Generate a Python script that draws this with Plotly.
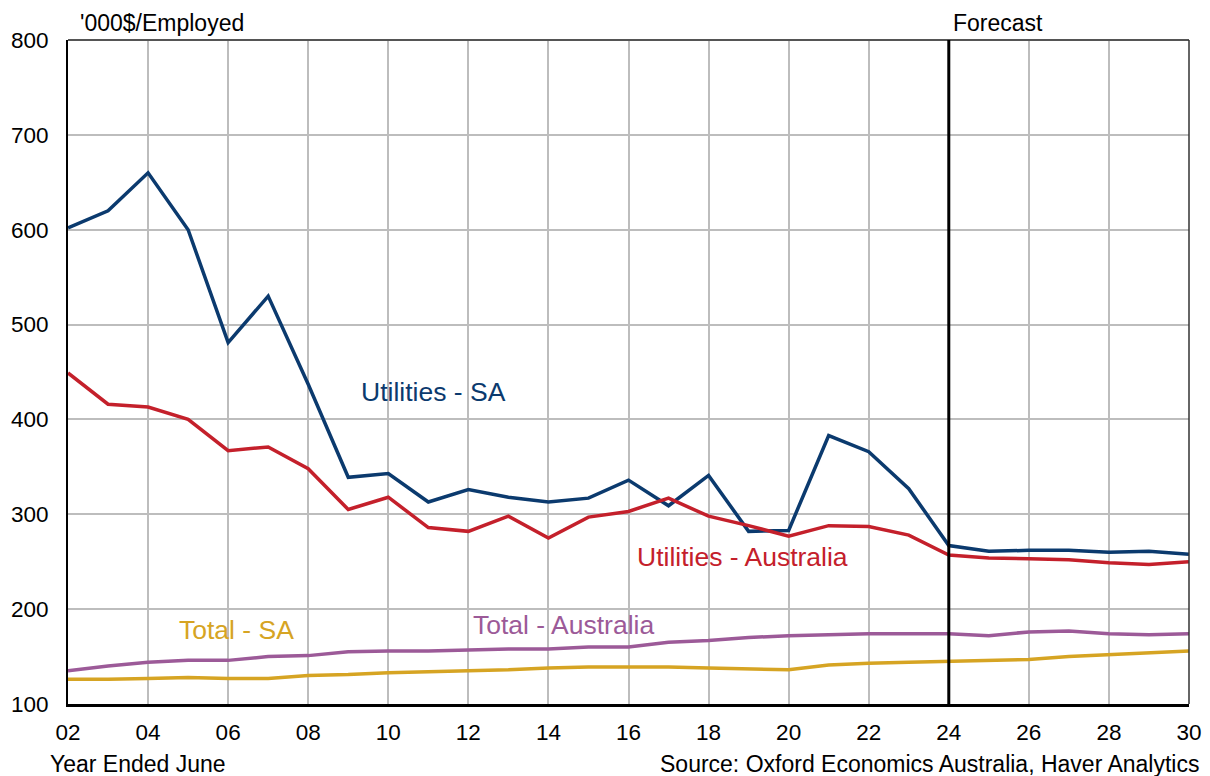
import plotly.graph_objects as go

years = list(range(2002, 2031))
utilities_sa = [602, 620, 660, 600, 481, 530, 437, 339, 343, 313, 326, 318, 313, 317, 336, 309, 341,
                282, 283, 383, 366, 327, 267, 261, 262, 262, 260, 261, 258]
utilities_aus = [449, 416, 413, 400, 367, 371, 348, 305, 318, 286, 282, 298, 275, 297, 303, 317, 298,
                 288, 277, 288, 287, 278, 257, 254, 253, 252, 249, 247, 250]
total_aus = [135, 140, 144, 146, 146, 150, 151, 155, 156, 156, 157, 158, 158, 160, 160, 165, 167,
             170, 172, 173, 174, 174, 174, 172, 176, 177, 174, 173, 174]
total_sa = [126, 126, 127, 128, 127, 127, 130, 131, 133, 134, 135, 136, 138, 139, 139, 139, 138,
            137, 136, 141, 143, 144, 145, 146, 147, 150, 152, 154, 156]
tick_years = list(range(2002, 2031, 2))
tick_labels = [f"{y % 100:02d}" for y in tick_years]
forecast_year = 2024

series = [
    ("Utilities - SA", utilities_sa, "#0b3a6e", 433, 392),
    ("Utilities - Australia", utilities_aus, "#c4202b", 742, 557),
    ("Total - Australia", total_aus, "#9c5a98", 563, 625),
    ("Total - SA", total_sa, "#d6a423", 236, 630),
]

fig = go.Figure()
for name, vals, color, lx, ly in series:
    fig.add_trace(go.Scatter(x=years, y=vals, mode="lines", name=name,
                             line=dict(color=color, width=3.5), showlegend=False))

font = "Liberation Sans, Arial, sans-serif"
fig.update_layout(
    width=1210, height=776,
    margin=dict(l=68, r=21, t=40, b=72),
    paper_bgcolor="white", plot_bgcolor="white",
    font=dict(family=font, size=23, color="black"),
    xaxis=dict(range=[2002, 2030], tickvals=tick_years, ticktext=tick_labels,
               showgrid=True, gridcolor="#bdbdbd", gridwidth=1.8,
               showline=True, linecolor="black", linewidth=3, automargin=False,
               ticks="", zeroline=False, tickfont=dict(size=22.5), ticklabelstandoff=6),
    yaxis=dict(range=[100, 800], dtick=100, showgrid=True, gridcolor="#bdbdbd", gridwidth=1.8,
               showline=True, linecolor="black", linewidth=2, automargin=False,
               ticks="", zeroline=False, tickfont=dict(size=22.5), ticklabelstandoff=13),
)

# top and right borders
fig.add_shape(type="line", xref="paper", yref="paper", x0=0, x1=1, y0=1, y1=1,
              line=dict(color="#555555", width=2))
fig.add_shape(type="line", xref="paper", yref="paper", x0=1, x1=1, y0=0, y1=1,
              line=dict(color="#333333", width=1.5))
# forecast line
fig.add_shape(type="line", xref="x", yref="paper", x0=forecast_year, x1=forecast_year, y0=0, y1=1,
              line=dict(color="black", width=3))

def px_to_paper(px, py):
    return (px - 68) / (1189 - 68), (704 - py) / (704 - 40)

for name, vals, color, lx, ly in series:
    x, y = px_to_paper(lx, ly)
    fig.add_annotation(x=x, y=y, xref="paper", yref="paper", text=name, showarrow=False,
                       font=dict(color=color, size=26.5, family=font), xanchor="center", yanchor="middle")

x, y = px_to_paper(78, 23)
fig.add_annotation(x=x, y=y, xref="paper", yref="paper", text="'000$/Employed", showarrow=False,
                   xanchor="left", yanchor="middle", font=dict(size=23))
x, y = px_to_paper(951, 23)
fig.add_annotation(x=x, y=y, xref="paper", yref="paper", text="Forecast", showarrow=False,
                   xanchor="left", yanchor="middle", font=dict(size=23))
x, y = px_to_paper(48, 764)
fig.add_annotation(x=x, y=y, xref="paper", yref="paper", text="Year Ended June", showarrow=False,
                   xanchor="left", yanchor="middle", font=dict(size=23))
x, y = px_to_paper(1201, 764)
fig.add_annotation(x=x, y=y, xref="paper", yref="paper",
                   text="Source: Oxford Economics Australia, Haver Analytics", showarrow=False,
                   xanchor="right", yanchor="middle", font=dict(size=23))

fig.write_html("out.html", config={"displayModeBar": False},
               post_script="document.body.style.margin='0';")
